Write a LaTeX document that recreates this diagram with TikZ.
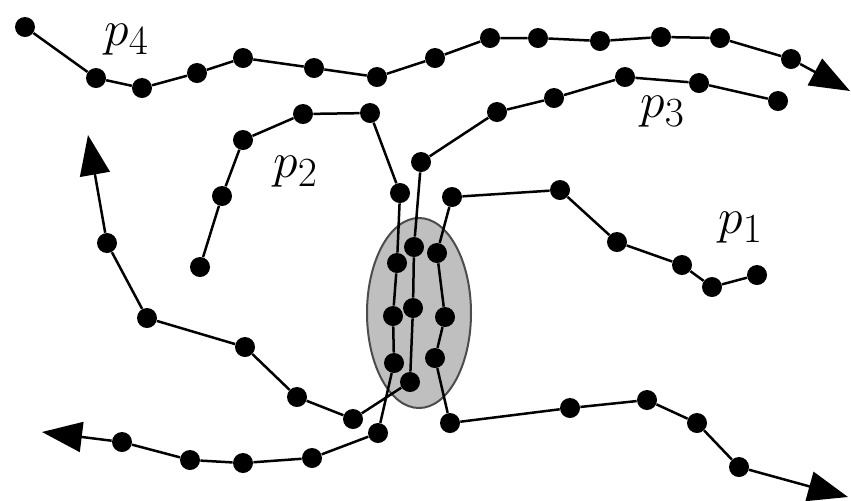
\documentclass[tikz,border=0pt]{standalone}
\usetikzlibrary{arrows.meta,shapes.geometric}

\begin{document}
\begin{tikzpicture}[
  x=0.5pt, y=-0.5pt,
  dot/.style={circle,fill=black,inner sep=0pt,minimum size=10pt},
  link/.style={line width=1.25pt},
  arrow/.style={link,-{Triangle[length=20pt,width=15pt]}},
  lbl/.style={inner sep=0pt,anchor=base west,font=\fontsize{31}{31}\selectfont},
  hub/.style={ellipse,draw=black!70,line width=1pt,fill=black!25,inner sep=0pt,minimum width=52pt,minimum height=95pt}
]
\useasboundingbox (0,0) rectangle (851,500);
\node[hub] (merge) at (419,313) {};

% path p4
\node[dot] (d1) at (25,27) {};
\node[dot] (d2) at (96,78) {};
\node[dot] (d3) at (142,88) {};
\node[dot] (d4) at (197,73) {};
\node[dot] (d5) at (243,58) {};
\node[dot] (d6) at (314,68) {};
\node[dot] (d7) at (377,77) {};
\node[dot] (d8) at (435,58) {};
\node[dot] (d9) at (490,38) {};
\node[dot] (d10) at (538,38) {};
\node[dot] (d11) at (600,41) {};
\node[dot] (d12) at (661,37) {};
\node[dot] (d13) at (720,38) {};
\node[dot] (d14) at (791,59) {};
\coordinate (d15) at (850,91);

% path p3
\node[dot] (c1) at (778,101) {};
\node[dot] (c2) at (699,83) {};
\node[dot] (c3) at (625,77) {};
\node[dot] (c4) at (554,98) {};
\node[dot] (c5) at (497,112) {};
\node[dot] (c6) at (421,162) {};
\node[dot] (c7) at (414,247) {};
\node[dot] (c8) at (413,308) {};
\node[dot] (c9) at (410,382) {};
\node[dot] (c10) at (353,419) {};
\node[dot] (c11) at (297,397) {};
\node[dot] (c12) at (245,347) {};
\node[dot] (c13) at (147,318) {};
\node[dot] (c14) at (107,243) {};
\coordinate (c15) at (88,135);

% path p2
\node[dot] (b1) at (200,267) {};
\node[dot] (b2) at (222,196) {};
\node[dot] (b3) at (243,140) {};
\node[dot] (b4) at (303,114) {};
\node[dot] (b5) at (370,113) {};
\node[dot] (b6) at (400,193) {};
\node[dot] (b7) at (397,263) {};
\node[dot] (b8) at (393,316) {};
\node[dot] (b9) at (394,363) {};
\node[dot] (b10) at (378,433) {};
\node[dot] (b11) at (312,458) {};
\node[dot] (b12) at (243,463) {};
\node[dot] (b13) at (190,460) {};
\node[dot] (b14) at (122,442) {};
\coordinate (b15) at (42,432);

% path p1
\node[dot] (a1) at (757,275) {};
\node[dot] (a2) at (712,287) {};
\node[dot] (a3) at (682,265) {};
\node[dot] (a4) at (617,242) {};
\node[dot] (a5) at (560,190) {};
\node[dot] (a6) at (452,197) {};
\node[dot] (a7) at (437,253) {};
\node[dot] (a8) at (445,317) {};
\node[dot] (a9) at (435,358) {};
\node[dot] (a10) at (450,423) {};
\node[dot] (a11) at (570,408) {};
\node[dot] (a12) at (647,400) {};
\node[dot] (a13) at (697,423) {};
\node[dot] (a14) at (739,467) {};
\coordinate (a15) at (848,497);

\draw[link] (d1)--(d2)--(d3)--(d4)--(d5)--(d6)--(d7)--(d8)--(d9)--(d10)--(d11)--(d12)--(d13)--(d14);
\draw[arrow] (d14)--(d15);
\draw[link] (c1)--(c2)--(c3)--(c4)--(c5)--(c6)--(c7)--(c8)--(c9)--(c10)--(c11)--(c12)--(c13)--(c14);
\draw[arrow] (c14)--(c15);
\draw[link] (b1)--(b2)--(b3)--(b4)--(b5)--(b6)--(b7)--(b8)--(b9)--(b10)--(b11)--(b12)--(b13)--(b14);
\draw[arrow] (b14)--(b15);
\draw[link] (a1)--(a2)--(a3)--(a4)--(a5)--(a6)--(a7)--(a8)--(a9)--(a10)--(a11)--(a12)--(a13)--(a14);
\draw[arrow] (a14)--(a15);

\node[lbl] (l4) at (104,45) {$p_4$};
\node[lbl] (l3) at (640,117) {$p_3$};
\node[lbl] (l2) at (273,177) {$p_2$};
\node[lbl] (l1) at (718,233) {$p_1$};
\end{tikzpicture}
\end{document}
